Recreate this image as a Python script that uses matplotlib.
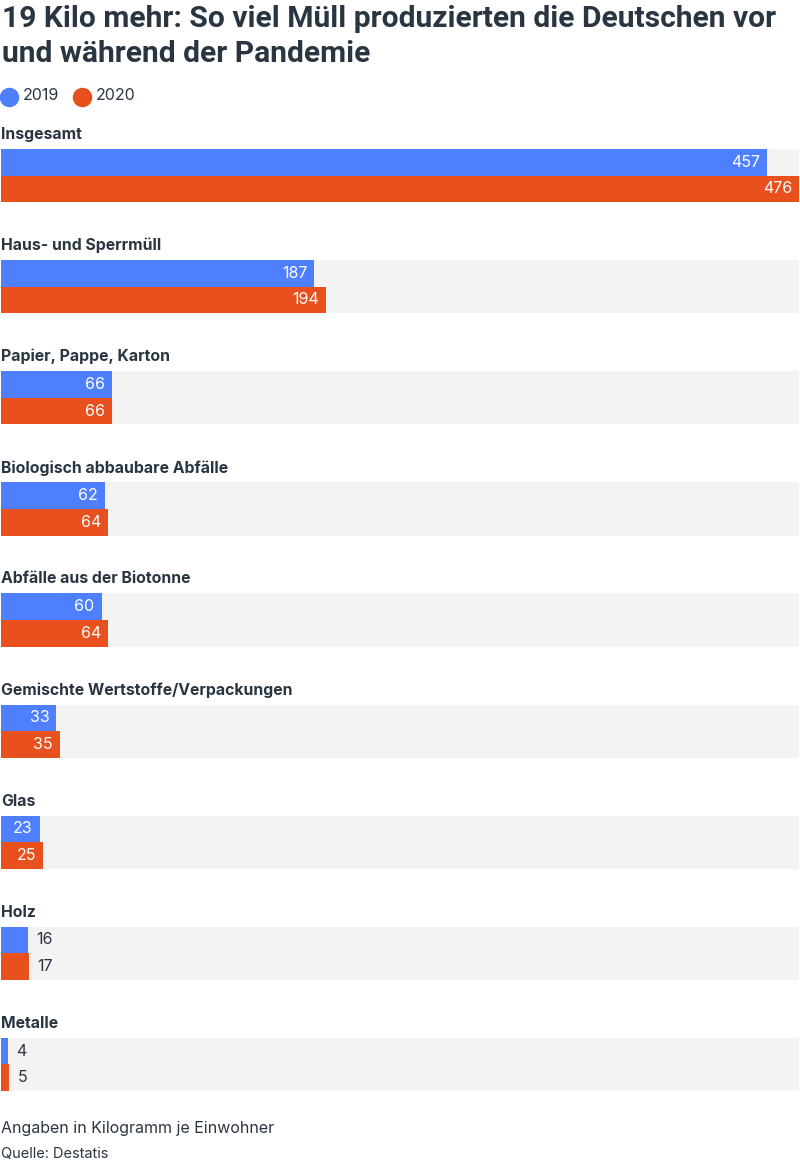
import matplotlib.pyplot as plt
from matplotlib.lines import Line2D

kategorien = ["Insgesamt", "Haus- und Sperrmüll", "Papier, Pappe, Karton",
              "Biologisch abbaubare Abfälle", "Abfälle aus der Biotonne",
              "Gemischte Wertstoffe/Verpackungen", "Glas", "Holz", "Metalle"]
werte_2019 = [457, 187, 66, 62, 60, 33, 23, 16, 4]
werte_2020 = [476, 194, 66, 64, 64, 35, 25, 17, 5]
jahre = ["2019", "2020"]

blau = "#4e7fff"
orange = "#e8501e"
grau = "#f3f3f3"
dunkel = "#2a3542"

plt.rcParams['font.family'] = ['Inter', 'DejaVu Sans']

fig = plt.figure(figsize=(8, 11.64), dpi=100)
ax = fig.add_axes([1/800, 0, 798/800, 1])
ax.set_xlim(0, 476)
ax.set_ylim(1164, 0)
ax.axis("off")

# pixelraster der gruppen
start = 149
abstand = 111.1
hoehe = 26.6

for i, kat in enumerate(kategorien):
    y = start + i * abstand
    ax.barh(y, 476, height=2 * hoehe, align="edge", color=grau, zorder=1)
    ax.text(0, y - 14.5, kat, fontsize=11.4, fontweight="bold", color=dunkel,
            va="center", ha="left")
    for j, w in enumerate([werte_2019[i], werte_2020[i]]):
        yy = y + j * hoehe
        ax.barh(yy, w, height=hoehe, align="edge",
                color=[blau, orange][j], zorder=2)
        if w > 20:
            ax.annotate(str(w), (w, yy + hoehe / 2), xytext=(-7, 0),
                        textcoords="offset pixels", ha="right", va="center",
                        fontsize=11.5, color="white", zorder=3)
        else:
            ax.annotate(str(w), (w, yy + hoehe / 2), xytext=(8, 0),
                        textcoords="offset pixels", ha="left", va="center",
                        fontsize=11.5, color=dunkel, zorder=3)

titel = ["19 Kilo mehr: So viel Müll produzierten die Deutschen vor",
         "und während der Pandemie"]
for k, zeile in enumerate(titel):
    fig.text(2/800, 1 - (19 + k * 35)/1164, zeile,
             fontsize=21.6, fontweight="bold", color=dunkel, va="center",
             family=['Roboto', 'DejaVu Sans'])

# legende
for j, (jahr, farbe) in enumerate(zip(jahre, [blau, orange])):
    cx = 9 + j * 73
    fig.add_artist(Line2D([cx / 800], [1 - 96.5 / 1164], marker="o",
                          markersize=13, color=farbe, linestyle="none",
                          transform=fig.transFigure))
    fig.text((cx + 14) / 800, 1 - 96 / 1164, jahr, fontsize=11.5,
             color=dunkel, va="center")

fig.text(1/800, 1 - 1129/1164, "Angaben in Kilogramm je Einwohner",
         fontsize=11.5, color=dunkel, va="center")
fig.text(1/800, 1 - 1154/1164, "Quelle: Destatis",
         fontsize=10.5, color=dunkel, va="center")

fig.savefig("out.png", dpi=100)
